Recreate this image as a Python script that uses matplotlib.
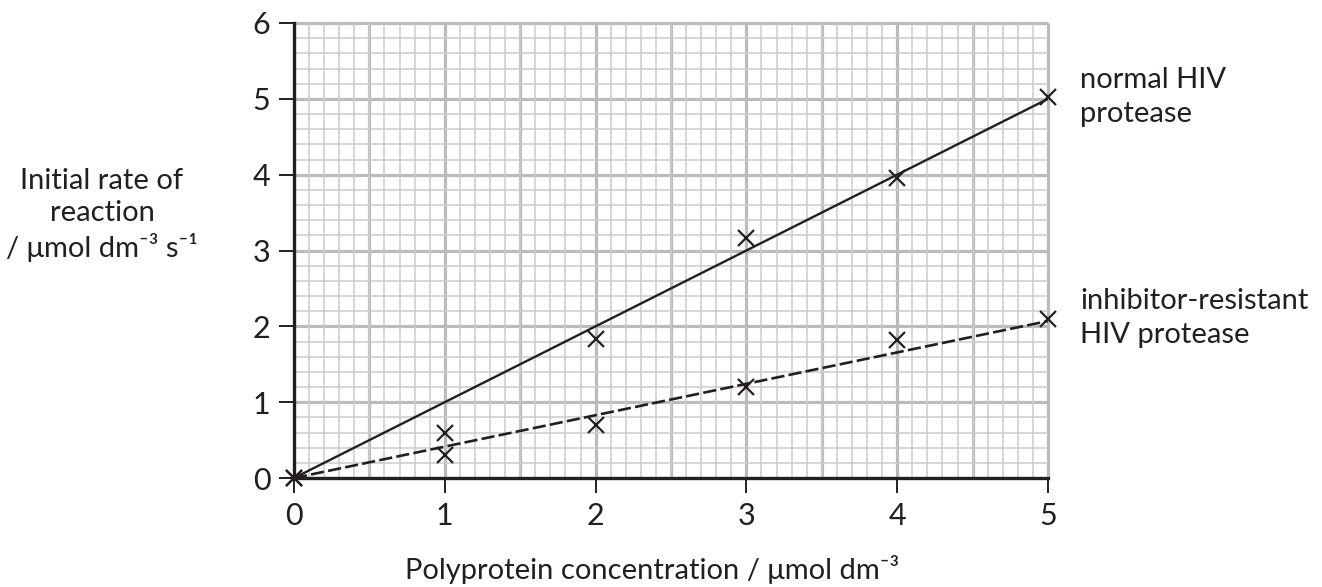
import numpy as np
import matplotlib
matplotlib.use("Agg")
import matplotlib.pyplot as plt
from matplotlib.ticker import MultipleLocator

plt.rcParams['font.family'] = ['Lato', 'DejaVu Sans']

# --- data ---
conc = [0, 1, 2, 3, 4, 5]
normal_rate = [0, 0.6, 1.83, 3.17, 3.95, 5.02]
resistant_rate = [0, 0.3, 0.7, 1.2, 1.82, 2.1]

# hand drawn lines of best fit (end points)
fit_x = [0, 5]
normal_fit = [0, 5.0]
resistant_fit = [0, 2.07]

x_ticks = [0, 1, 2, 3, 4, 5]
y_ticks = [0, 1, 2, 3, 4, 5, 6]

ink = '#231f20'
minor_grey = '#cbcbcd'
major_grey = '#bbbbbe'

W, H = 1322, 587
fig = plt.figure(figsize=(W / 100, H / 100), dpi=100)
ax = fig.add_axes([294 / W, 1 - 478 / H, (1048 - 294) / W, (478 - 23) / H])

ax.set_xlim(0, 5)
ax.set_ylim(0, 6)

# graph paper: fine squares, heavier lines every 0.5 (x) and 1 (y)
ax.xaxis.set_minor_locator(MultipleLocator(0.1))
ax.yaxis.set_minor_locator(MultipleLocator(0.2))
ax.grid(which='minor', color=minor_grey, lw=1.1, zorder=0)
ax.vlines(np.arange(0.5, 5.01, 0.5), 0, 6, color=major_grey, lw=2.3, zorder=0.5, clip_on=False)
ax.hlines(np.arange(1, 6.01, 1), 0, 5, color=major_grey, lw=2.3, zorder=0.5, clip_on=False)

for s in ['top', 'right']:
    ax.spines[s].set_visible(False)
for s in ['left', 'bottom']:
    ax.spines[s].set_linewidth(2.4)
    ax.spines[s].set_color(ink)
    ax.spines[s].set_zorder(3)

ax.set_xticks(x_ticks)
ax.set_yticks(y_ticks)
ax.tick_params(which='major', direction='out', length=11, width=1.4, color=ink,
               labelsize=22, labelcolor=ink, pad=6)
ax.tick_params(which='minor', length=0)

ax.plot(fit_x, normal_fit, color=ink, lw=1.7, zorder=4, solid_capstyle='butt')
ax.plot(fit_x, resistant_fit, color=ink, lw=1.9, zorder=4, dashes=(5, 1.6))
ax.plot(conc, normal_rate, ls='none', marker='x', ms=11, mew=1.6, color=ink, zorder=5, clip_on=False)
ax.plot(conc, resistant_rate, ls='none', marker='x', ms=11, mew=1.6, color=ink, zorder=5, clip_on=False)

fs = 21
fig.text(102 / W, 1 - 215 / H, 'Initial rate of\nreaction\n/ \u03bcmol dm\u207b\u00b3 s\u207b\u00b9',
         ha='center', va='center', fontsize=fs, color=ink, linespacing=1.3)
fig.text(652 / W, 1 - 570 / H, 'Polyprotein concentration / \u03bcmol dm\u207b\u00b3',
         ha='center', va='center', fontsize=fs, color=ink)
fig.text(1080 / W, 1 - 97 / H, 'normal HIV\nprotease',
         ha='left', va='center', fontsize=fs, color=ink, linespacing=1.35)
fig.text(1080 / W, 1 - 318 / H, 'inhibitor-resistant\nHIV protease',
         ha='left', va='center', fontsize=fs, color=ink, linespacing=1.35)

fig.savefig('out.png', dpi=100)
